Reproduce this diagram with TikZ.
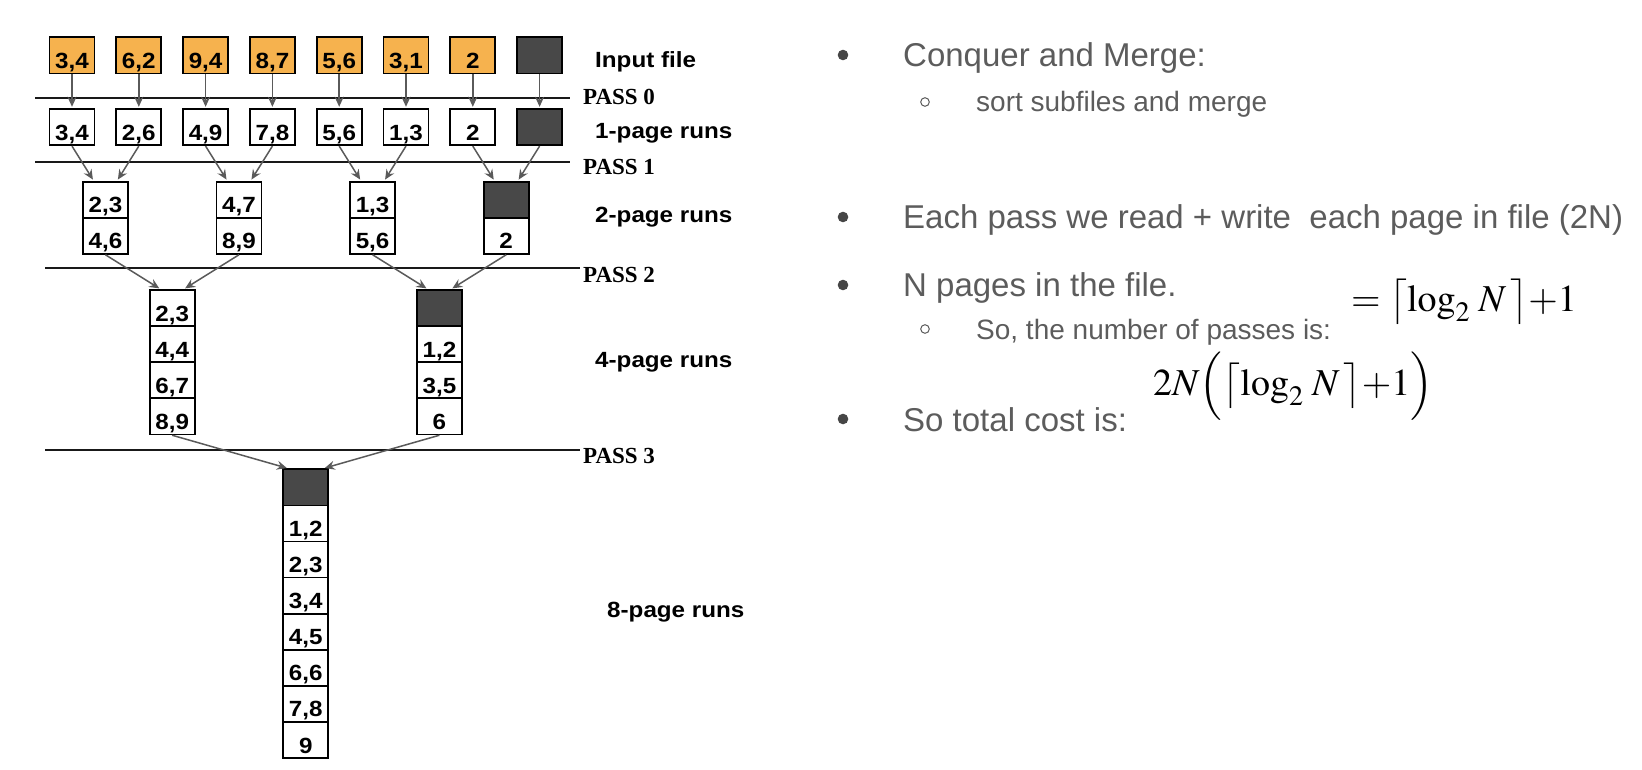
\documentclass[tikz,border=0pt]{standalone}
\usepackage{mathptmx}
\usepackage{fontspec}
\setmainfont{Liberation Serif}
\setsansfont{Liberation Sans}
\newfontfamily\cellfont{Liberation Sans}[FakeStretch=1.1]
\usetikzlibrary{arrows.meta, calc}
\definecolor{pageorange}{RGB}{246,178,78}
\definecolor{pagedark}{RGB}{72,72,72}
\definecolor{flowgray}{RGB}{90,90,90}
\definecolor{slidegray}{RGB}{92,92,92}
\definecolor{bulletgray}{RGB}{70,70,70}

\begin{document}
\begin{tikzpicture}[x=1pt, y=-1pt,
    page/.style = {draw=black, line width=1.7pt, minimum width=45pt, minimum height=36.1pt,
      inner sep=0pt, text height=26pt, text depth=0pt,
      font=\cellfont\bfseries\fontsize{22}{22}\selectfont},
    darkpage/.style = {page, fill=pagedark},
    flow/.style = {draw=flowgray, line width=1.5pt, shorten >=1.5pt,
      -{Stealth[length=10pt, width=9pt, inset=3.5pt]}},
    passline/.style = {draw=black!90, line width=2pt},
    passlbl/.style = {anchor=west, inner sep=0pt, font=\rmfamily\bfseries\fontsize{23}{23}\selectfont},
    runlbl/.style = {anchor=base west, inner sep=0pt, font=\cellfont\bfseries\fontsize{22}{22}\selectfont},
    slide/.style = {anchor=base west, inner sep=0pt, text=slidegray, font=\sffamily\fontsize{33}{33}\selectfont},
    subslide/.style = {slide, font=\sffamily\fontsize{28}{28}\selectfont},
    formula/.style = {anchor=west, inner sep=0pt, font=\fontsize{38}{38}\selectfont}]
  \useasboundingbox (0,0) rectangle (1642,769);

  \draw[passline] (35,97.7) -- (570,97.7);
  \draw[passline] (35,162) -- (570,162);
  \draw[passline] (45,268.3) -- (580,268.3);
  \draw[passline] (45,449.5) -- (580,449.5);
  \node[passlbl] (pass0) at (583,96.5) {PASS 0};
  \node[passlbl] (pass1) at (583,167) {PASS 1};
  \node[passlbl] (pass2) at (583,275) {PASS 2};
  \node[passlbl] (pass3) at (583,456) {PASS 3};

  \foreach \val [count=\i from 0] in {{3,4},{6,2},{9,4},{8,7},{5,6},{3,1},{2}}
    \node[page, fill=pageorange] (inp\i) at (72+66.8*\i, 55.3) {\val};
  \node[darkpage] (inp7) at (72+66.8*7, 55.3) {};
  \foreach \val [count=\i from 0] in {{3,4},{2,6},{4,9},{7,8},{5,6},{1,3},{2}}
    \node[page] (one\i) at (72+66.8*\i, 127.2) {\val};
  \node[darkpage] (one7) at (72+66.8*7, 127.2) {};

  \node[page] (two0-0) at (105.4,199.75) {2,3};
  \node[page] (two0-1) at (105.4,235.85) {4,6};
  \node[page] (two1-0) at (239,199.75) {4,7};
  \node[page] (two1-1) at (239,235.85) {8,9};
  \node[page] (two2-0) at (372.6,199.75) {1,3};
  \node[page] (two2-1) at (372.6,235.85) {5,6};
  \node[darkpage] (two3-0) at (506.2,199.75) {};
  \node[page] (two3-1) at (506.2,235.85) {2};

  \foreach \val [count=\k from 0] in {{2,3},{4,4},{6,7},{8,9}}
    \node[page] (four0-\k) at (172.2, 308.05+36.1*\k) {\val};
  \node[darkpage] (four1-0) at (439.4,308.05) {};
  \foreach \val [count=\k] in {{1,2},{3,5},{6}}
    \node[page] (four1-\k) at (439.4, 308.05+36.1*\k) {\val};

  \node[darkpage] (eight-0) at (305.8,487.35) {};
  \foreach \val [count=\k] in {{1,2},{2,3},{3,4},{4,5},{6,6},{7,8},{9}}
    \node[page] (eight-\k) at (305.8, 487.35+36.1*\k) {\val};

  \foreach \i in {0,...,7}
    \draw[flow] (inp\i) -- (one\i);
  \foreach \j [evaluate=\j as \a using int(2*\j), evaluate=\j as \b using int(2*\j+1)] in {0,...,3} {
    \draw[flow] (one\a.south) -- ($(two\j-0.north)!.5!(two\j-0.north west)$);
    \draw[flow] (one\b.south) -- ($(two\j-0.north)!.5!(two\j-0.north east)$);
  }
  \foreach \k [evaluate=\k as \a using int(2*\k), evaluate=\k as \b using int(2*\k+1)] in {0,1} {
    \draw[flow] (two\a-1.south) -- ($(four\k-0.north)!.5!(four\k-0.north west)$);
    \draw[flow] (two\b-1.south) -- ($(four\k-0.north)!.5!(four\k-0.north east)$);
  }
  \draw[flow] (four0-3.south) -- ($(eight-0.north)!.75!(eight-0.north west)$);
  \draw[flow] (four1-3.south) -- ($(eight-0.north)!.75!(eight-0.north east)$);

  \node[runlbl] (lblinput) at (595,67) {Input file};
  \node[runlbl] (lblone) at (595,138) {1-page runs};
  \node[runlbl] (lbltwo) at (595,222) {2-page runs};
  \node[runlbl] (lblfour) at (595,367) {4-page runs};
  \node[runlbl] (lbleight) at (607,617) {8-page runs};

  \fill[bulletgray] (843,55) circle[radius=5.3pt];
  \fill[bulletgray] (843,217) circle[radius=5.3pt];
  \fill[bulletgray] (843,285) circle[radius=5.3pt];
  \fill[bulletgray] (843,419) circle[radius=5.3pt];
  \draw[slidegray, line width=1pt] (925,102) circle[radius=4.3pt];
  \draw[slidegray, line width=1pt] (925,329) circle[radius=4.3pt];

  \node[slide] (conquer) at (903,66) {Conquer and Merge:};
  \node[subslide] (sortsub) at (976,111) {sort subfiles and merge};
  \node[slide] (eachpass) at (903,228) {Each pass we read + write\ \ each page in file (2N)};
  \node[slide] (npages) at (903,296) {N pages in the file.};
  \node[subslide] (numpass) at (976,339) {So, the number of passes is:};
  \node[slide] (totcost) at (903,431) {So total cost is:};
  \node[formula] (passform) at (1351,302) {$=\bigl\lceil\log_2\,N\,\bigr\rceil\mathord{+}1$};
  \node[formula] (costform) at (1153,386) {$2N\Bigl(\bigl\lceil\log_2\,N\,\bigr\rceil\mathord{+}1\Bigr)$};
\end{tikzpicture}
\end{document}
